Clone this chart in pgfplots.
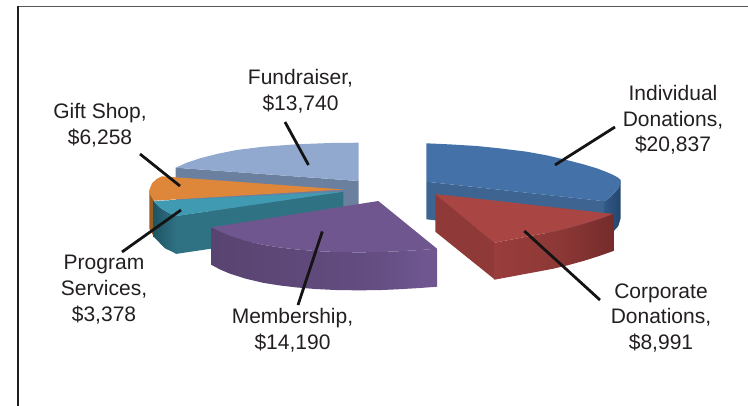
\documentclass[border=0pt]{standalone}
\usepackage{fontspec}
\setmainfont{Liberation Sans}
\usepackage{pgfplots}
\pgfplotsset{compat=1.18}
\definecolor{txt}{HTML}{231F20}
\definecolor{pa}{HTML}{594370}\definecolor{pb}{HTML}{6F5690}\definecolor{pc}{HTML}{644E82}
\definecolor{ra}{HTML}{993D3B}\definecolor{rb}{HTML}{8E3937}\definecolor{rc}{HTML}{752C2B}
\definecolor{ba}{HTML}{2F5885}\definecolor{bb}{HTML}{24466D}
\definecolor{ta}{HTML}{1F5565}\definecolor{tb}{HTML}{2F7283}
\pgfdeclarehorizontalshading{purpS}{100bp}{color(0bp)=(pa);color(25bp)=(pa);color(62bp)=(pc);color(72bp)=(pb);color(75bp)=(pb);color(100bp)=(pc)}
\pgfdeclarehorizontalshading{redS}{100bp}{color(0bp)=(ra);color(25bp)=(ra);color(50bp)=(rb);color(75bp)=(rc);color(100bp)=(rc)}
\pgfdeclarehorizontalshading{bluS}{100bp}{color(0bp)=(ba);color(25bp)=(ba);color(75bp)=(bb);color(100bp)=(bb)}
\pgfdeclarehorizontalshading{teaS}{100bp}{color(0bp)=(ta);color(25bp)=(ta);color(75bp)=(tb);color(100bp)=(tb)}
\tikzset{
  ldr/.style={draw=black!92, line width=2.8pt},
  lab/.style={font=\fontsize{21}{25.7}\selectfont, text=txt, align=center, anchor=center, inner sep=0pt},
}
\begin{document}
\begin{tikzpicture}
\path[use as bounding box] (0,0) rectangle (748pt,406pt);
\begin{axis}[
  at={(0,0)}, anchor=south west,
  scale only axis, width=748pt, height=406pt,
  xmin=0, xmax=748, ymin=0, ymax=406, y dir=reverse,
  axis lines=none, clip=true, no markers,
]
% frame
\addplot[draw=black!65, line width=1.6pt] coordinates {(17.8,6.5) (748,6.5)};
\addplot[draw=black!88, line width=1.6pt] coordinates {(17.8,406) (17.8,5.7)};
% Individual Donations: side faces
\addplot[draw=none, fill={rgb,255:red,62;green,101;blue,146}] coordinates {(426.3,181.7) (605.5,201.3) (605.5,239) (426.3,219.3)};
\addplot[draw=none, shading=bluS] coordinates {(604.7,201.3) (612,195.5) (618.3,188.3) (620.7,180) (620.7,218) (618.3,226) (612,233.2) (604.7,239)};
% Individual top
\addplot[draw=none, fill={rgb,255:red,68;green,114;blue,168}] coordinates {(426.3,181.7) (426.3,143.3) (450,144.4) (476.7,146) (500,148.4) (526.7,151.7) (547,155.4) (566.7,160) (583,164.2) (596.7,168.3) (606,171.8) (613.3,175) (618,177.6) (620.7,180) (620.2,184) (618.3,188.3) (612,195.5) (604.7,201.3)};
% Corporate
\addplot[draw=none, fill={rgb,255:red,143;green,58;blue,56}] coordinates {(435.3,194) (495,242.7) (495,279.7) (435.3,231.7)};
\addplot[draw=none, shading=redS] coordinates {(494.3,242.7) (508,240.2) (523.3,237.3) (538,234.6) (553.3,231.7) (568,228.2) (583.3,224) (598,219.4) (613.3,214) (613.3,251) (598,256.4) (583.3,261) (568,265.2) (553.3,268.7) (538,271.6) (523.3,274.3) (508,277.2) (494.3,279.7)};
\addplot[draw=none, fill={rgb,255:red,169;green,69;blue,67}] coordinates {(435.3,194) (613.3,214) (598,219.4) (583.3,224) (568,228.2) (553.3,231.7) (538,234.6) (523.3,237.3) (508,240.2) (494.3,242.7)};
% Fundraiser
\addplot[draw=none, fill={rgb,255:red,107;green,127;blue,158}] coordinates {(175.7,167.7) (358.7,181) (358.7,222) (175.7,208)};
\addplot[draw=none, fill={rgb,255:red,146;green,169;blue,207}] coordinates {(358.7,181) (175.7,167.7) (186.7,162.7) (200,158.3) (216.7,154) (236.7,150) (263.3,146.7) (296.7,144.3) (330,143) (358.7,142.7)};
% Gift Shop side and top
\addplot[draw=none, fill={rgb,255:red,154;green,95;blue,32}] coordinates {(149.3,190) (154,201) (154,237) (149.3,228.5)};
\addplot[draw=none, fill={rgb,255:red,222;green,135;blue,59}] coordinates {(343.3,189.5) (154,200.7) (150.7,195.7) (149.3,190) (152,183.3) (156.7,179) (161.7,176.3)};
% Program Services
\addplot[draw=none, fill={rgb,255:red,47;green,114;blue,131}] coordinates {(175.5,216) (343.3,191.7) (343.3,229) (175.5,254)};
\addplot[draw=none, shading=teaS] coordinates {(153.5,201) (160,207.7) (168.3,212.7) (176.7,216) (176.7,254) (165,248.3) (153.5,236.7)};
\addplot[draw=none, fill={rgb,255:red,63;green,154;blue,178}] coordinates {(343.3,191.7) (154,201) (160,207.7) (168.3,212.7) (176.7,216)};
% Membership
\addplot[draw=none, shading=purpS] coordinates {(211.7,227.3) (220,231.5) (230,235.7) (245,240.5) (263,244.8) (280,247.5) (297,249.5) (315,251) (335,252) (355,252.3) (378,252.2) (400,251.2) (420,250) (437,248.7) (437,286.7) (420,288) (400,289.2) (378,290.2) (355,290.3) (335,290) (315,289) (297,287.5) (280,285.5) (263,282.8) (245,278.5) (230,273.7) (220,269.5) (211.7,265)};
\addplot[draw=none, fill={rgb,255:red,112;green,86;blue,143}] coordinates {(378.3,201) (211.7,227.3) (220,231.5) (230,235.7) (245,240.5) (263,244.8) (280,247.5) (297,249.5) (315,251) (335,252) (355,252.3) (378,252.2) (400,251.2) (420,250) (437,248.7)};
% leader lines
\addplot[ldr] coordinates {(285,122) (308.5,165)};
\addplot[ldr] coordinates {(140,154) (180,186)};
\addplot[ldr] coordinates {(122,252) (181,210)};
\addplot[ldr] coordinates {(298,305) (322.3,231.5)};
\addplot[ldr] coordinates {(615,127) (555,165)};
\addplot[ldr] coordinates {(600,300) (524.3,231)};
% labels
\node[lab] at (axis cs:300.5,91) {Fundraiser,\\\$13,740};
\node[lab] at (axis cs:100,125) {Gift Shop,\\\$6,258};
\node[lab] at (axis cs:104,289.5) {Program\\Services,\\\$3,378};
\node[lab] at (axis cs:292.5,330) {Membership,\\\$14,190};
\node[lab] at (axis cs:673,120) {Individual\\Donations,\\\$20,837};
\node[lab] at (axis cs:661,318) {Corporate\\Donations,\\\$8,991};
\end{axis}
\end{tikzpicture}
\end{document}
